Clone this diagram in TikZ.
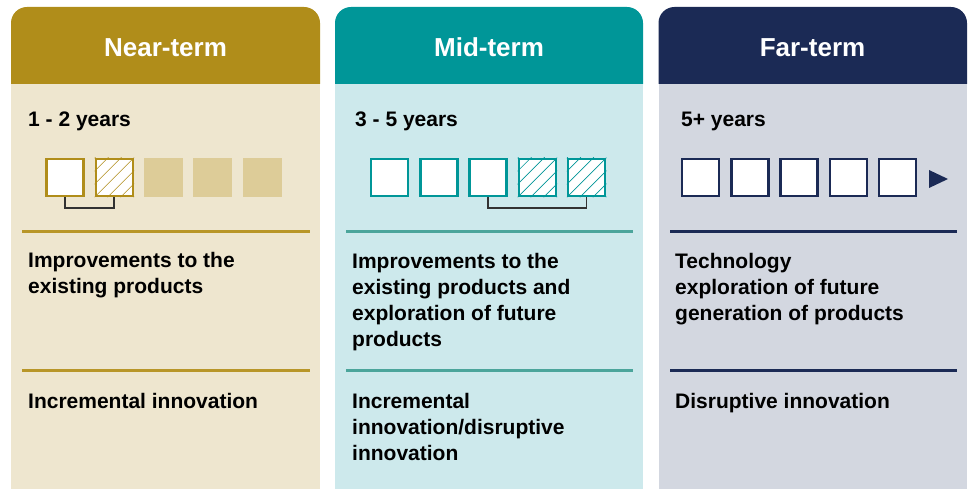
\documentclass[tikz,border=0pt]{standalone}
\usepackage{fontspec}
\setmainfont{Liberation Sans}

\definecolor{nearhd}{RGB}{176,141,26}
\definecolor{nearbg}{RGB}{238,230,207}
\definecolor{nearsq}{RGB}{221,204,152}
\definecolor{nearln}{RGB}{184,150,40}
\definecolor{midhd}{RGB}{0,150,152}
\definecolor{midbg}{RGB}{205,233,236}
\definecolor{midln}{RGB}{75,165,155}
\definecolor{farhd}{RGB}{27,42,85}
\definecolor{farbg}{RGB}{211,215,224}
\definecolor{brk}{RGB}{50,50,50}

\begin{document}
\begin{tikzpicture}[x=1pt, y=-1pt,
  title/.style={text=white, font=\fontsize{26}{30}\selectfont\bfseries, anchor=base, inner sep=0pt},
  years/.style={font=\fontsize{21}{26}\selectfont\bfseries, anchor=base west, inner sep=0pt},
  body/.style={font=\fontsize{21}{26}\selectfont\bfseries, anchor=base west, inner sep=0pt, align=left},
  box/.style={draw, line width=2.5pt, fill=white, minimum size=37pt, inner sep=0pt},
  ghost/.style={fill=nearsq, minimum size=39pt, inner sep=0pt},
  hatch/.style={line width=0.7pt},
  bracket/.style={draw=brk, line width=1.6pt},
  sep/.style={line width=3pt}]

  \useasboundingbox (0,0) rectangle (972,489);

  % column backgrounds
  \fill[nearhd, rounded corners=16pt] (11,84) -- (11,7) -- (320,7) -- (320,84);
  \fill[nearbg] (11,84) rectangle (320,489);
  \fill[midhd, rounded corners=16pt] (335,84) -- (335,7) -- (643,7) -- (643,84);
  \fill[midbg] (335,84) rectangle (643,489);
  \fill[farhd, rounded corners=16pt] (658.5,84) -- (658.5,7) -- (967,7) -- (967,84);
  \fill[farbg] (658.5,84) rectangle (967,489);

  \node[title] (near) at (165.5,57) {Near-term};
  \node[title] (mid) at (489,57) {Mid-term};
  \node[title] (far) at (812.5,57) {Far-term};

  \node[years] (nearyr) at (28,127) {1 - 2 years};
  \node[years] (midyr) at (355,127) {3 - 5 years};
  \node[years] (faryr) at (681,127) {5+ years};

  % near-term squares
  \node[box, draw=nearhd] (n1) at (65,177.5) {};
  \node[box, draw=nearhd] (n2) at (114.25,177.5) {};
  \foreach \i in {3,4,5}
    \node[ghost] (n\i) at ({65+49.25*(\i-1)},177.5) {};
  \begin{scope}
    \clip (n2.south west) rectangle (n2.north east);
    \foreach \k in {-39,-26,...,39}
      \draw[hatch, nearhd] ([xshift=\k pt]n2.south west) -- ++(40,-40);
  \end{scope}
  \draw[bracket] (n1.south) -- ++(0,11) -| (n2.south);

  % mid-term squares
  \foreach \i in {1,...,5}
    \node[box, draw=midhd] (m\i) at ({389.5+49.25*(\i-1)},177.5) {};
  \foreach \j in {4,5} {
    \begin{scope}
      \clip (m\j.south west) rectangle (m\j.north east);
      \foreach \k in {-39,-26,...,39}
        \draw[hatch, midhd] ([xshift=\k pt]m\j.south west) -- ++(40,-40);
    \end{scope}
  }
  \draw[bracket] (m3.south) -- ++(0,11) -| (m5.south);

  % far-term squares
  \foreach \i in {1,...,5}
    \node[box, draw=farhd] (f\i) at ({700.5+49.25*(\i-1)},177.5) {};
  \fill[farhd] (929,170) -- (948,179) -- (929,188) -- cycle;

  % separators
  \draw[sep, nearln] (22,232) -- (310,232);
  \draw[sep, nearln] (22,370) -- (310,370);
  \draw[sep, midln] (346,232) -- (633,232);
  \draw[sep, midln] (346,370) -- (633,370);
  \draw[sep, farhd] (670,232) -- (957,232);
  \draw[sep, farhd] (670,370) -- (957,370);

  % text anchored at the baseline of the last line
  \node[body] (nearwhat) at (28,294) {Improvements to the\\existing products};
  \node[body] (nearkind) at (28,408) {Incremental innovation};
  \node[body] (midwhat) at (352,346) {Improvements to the\\existing products and\\exploration of future\\products};
  \node[body] (midkind) at (352,460) {Incremental\\innovation/disruptive\\innovation};
  \node[body] (farwhat) at (675,320) {Technology\\exploration of future\\generation of products};
  \node[body] (farkind) at (675,408) {Disruptive innovation};

\end{tikzpicture}
\end{document}
